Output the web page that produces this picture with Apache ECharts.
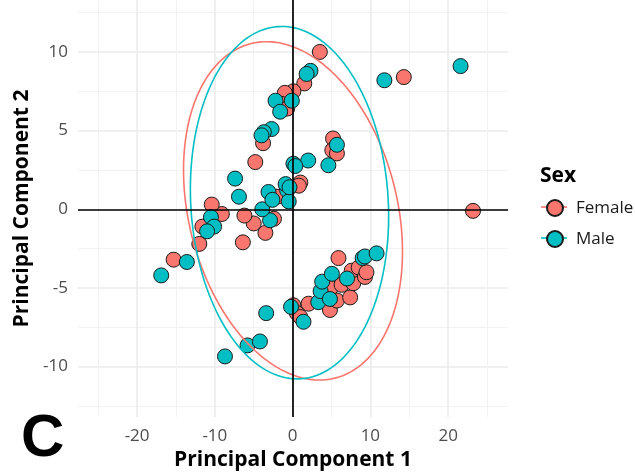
<!DOCTYPE html>
<html>
<head>
<meta charset="utf-8">
<title>PCA - Sex</title>
<script src="https://cdn.jsdelivr.net/npm/echarts@6.0.0/dist/echarts.min.js"></script>
<style>
  html, body { margin: 0; padding: 0; background: #fff; }
  #chart { width: 635px; height: 474px; }
</style>
</head>
<body>
<div id="chart"></div>
<script>
// tick positions
const xMajorTicks = [-20, -10, 0, 10, 20]
const xMinorTicks = [-25, -15, -5, 5, 15, 25]
const yMajorTicks = [-10, -5, 0, 5, 10]
const yMinorTicks = [-12.5, -7.5, -2.5, 2.5, 7.5, 12.5]

// PC1, PC2 per sample
const femalePoints = [
  [3.5, 10.0], [1.5, 8.0], [0.1, 7.5], [-1.0, 7.4], [-1.4, 6.7], [-0.7, 6.4],
  [-3.8, 4.2], [-4.8, 3.0], [5.2, 4.5], [5.1, 3.75], [5.7, 3.55], [14.3, 8.4],
  [23.2, -0.1], [1.0, 1.7], [0.8, 1.5], [-1.2, 0.9], [-2.0, 0.8], [-2.4, -0.6],
  [-3.5, -1.5], [-5.0, -0.9], [-6.2, -0.4], [-6.4, -2.1], [-9.1, -0.3], [-10.4, 0.3],
  [-11.6, -1.1], [-12.0, -2.2], [-15.3, -3.2],
  [0.1, -6.1], [0.55, -6.6], [1.0, -6.85], [2.05, -6.0], [4.8, -6.4], [4.9, -5.0],
  [5.7, -5.8], [5.9, -3.1], [6.3, -4.8], [7.4, -5.6], [7.8, -4.7], [7.6, -3.9],
  [8.5, -3.7], [9.3, -4.3], [9.5, -4.0]
]
const malePoints = [
  [2.3, 8.8], [1.8, 8.6], [-2.2, 6.9], [-0.1, 6.9], [-1.6, 6.2], [-2.7, 5.1],
  [-3.7, 4.9], [-4.0, 4.7], [5.7, 4.1], [4.6, 2.8], [2.0, 3.1], [0.1, 2.9],
  [0.35, 2.75], [11.8, 8.2], [21.6, 9.1], [-7.4, 1.95], [-6.9, 0.8], [-10.5, -0.5],
  [-10.1, -1.1], [-11.0, -1.4], [-13.6, -3.35], [-16.9, -4.2], [-2.9, -0.7], [-3.9, 0.0],
  [-3.1, 1.1], [-2.6, 0.6], [-0.7, 1.2], [-0.5, 0.5], [-0.9, 1.6], [-0.4, 1.4],
  [-3.4, -6.6], [-5.8, -8.65], [-4.2, -8.4], [-8.7, -9.35], [-0.2, -6.2], [1.4, -7.15],
  [3.3, -5.9], [3.6, -5.2], [3.8, -4.6], [5.05, -4.1], [4.8, -5.7], [7.0, -4.4],
  [9.0, -3.1], [9.3, -3.0], [10.8, -2.8]
]

// 95% ellipses: centre x, centre y, sd x, sd y, covariance (scaled)
const femaleEllipse = [0.05, -0.1, 14.08, 10.75, -36.5]
const maleEllipse = [-0.4, 0.42, 12.75, 11.2, -11]

const FEMALE = '#F8766D'
const MALE = '#00BFC4'
const FONT = '"Open Sans", Lato, sans-serif'

const ellipsePath = (p) => {
  const [cx, cy, sx, sy, sxy] = p
  const l21 = sxy / sx
  const l22 = Math.sqrt(sy * sy - l21 * l21)
  const pts = []
  for (let i = 0; i <= 160; i++) {
    const t = (Math.PI * 2 * i) / 160
    pts.push([cx + sx * Math.cos(t), cy + l21 * Math.cos(t) + l22 * Math.sin(t)])
  }
  return pts
}

const chart = echarts.init(document.getElementById('chart'))

const axisCommon = {
  type: 'value',
  axisLine: { show: false },
  axisTick: { show: false },
  minorTick: { show: false }
}

const option = {
  animation: false,
  title: [
    {
      text: 'Sex',
      left: 540,
      top: 166,
      padding: 0,
      textStyle: { fontFamily: FONT, fontSize: 21, fontWeight: 'bold', color: '#000' }
    },
    {
      text: 'C',
      left: 16,
      top: 404,
      textStyle: { fontFamily: '"Liberation Sans", Arial, sans-serif', fontSize: 60, fontWeight: 'bold', color: '#000' }
    }
  ],
  legend: {
    orient: 'vertical',
    left: 546,
    top: 199,
    padding: 0,
    itemWidth: 16,
    itemHeight: 16,
    itemGap: 13,
    z: 5,
    data: ['Female', 'Male'],
    textStyle: { fontFamily: FONT, fontSize: 17, color: '#1a1a1a', padding: [0, 0, 0, 8] }
  },
  // line part of the legend keys (ellipse path)
  graphic: [
    { type: 'line', z: 1, shape: { x1: 541, y1: 207, x2: 567, y2: 207 }, style: { stroke: FEMALE, lineWidth: 1.6 } },
    { type: 'line', z: 1, shape: { x1: 541, y1: 238, x2: 567, y2: 238 }, style: { stroke: MALE, lineWidth: 1.6 } }
  ],
  grid: { left: 78, right: 127, top: 0, bottom: 57, outerBoundsMode: 'none' },
  xAxis: [
    {
      ...axisCommon,
      min: -27.6,
      max: 27.7,
      name: 'Principal Component 1',
      nameLocation: 'middle',
      nameGap: 32,
      nameTextStyle: { fontFamily: FONT, fontSize: 21, fontWeight: 'bold', color: '#000' },
      axisTick: { show: false, customValues: xMajorTicks },
      axisLabel: { customValues: xMajorTicks, margin: 11, fontFamily: FONT, fontSize: 17, color: '#4D4D4D' },
      splitLine: { show: true, lineStyle: { color: '#EBEBEB', width: 1.6 } }
    },
    {
      ...axisCommon,
      min: -27.6,
      max: 27.7,
      axisTick: { show: false, customValues: xMinorTicks },
      axisLabel: { show: false },
      splitLine: { show: true, lineStyle: { color: '#F2F2F2', width: 1 } }
    }
  ],
  yAxis: [
    {
      ...axisCommon,
      min: -13.2,
      max: 13.3,
      name: 'Principal Component 2',
      nameLocation: 'middle',
      nameGap: 40,
      nameTextStyle: { fontFamily: FONT, fontSize: 21, fontWeight: 'bold', color: '#000' },
      axisTick: { show: false, customValues: yMajorTicks },
      axisLabel: { customValues: yMajorTicks, margin: 10, fontFamily: FONT, fontSize: 17, color: '#4D4D4D' },
      splitLine: { show: true, lineStyle: { color: '#EBEBEB', width: 1.6 } }
    },
    {
      ...axisCommon,
      min: -13.2,
      max: 13.3,
      axisTick: { show: false, customValues: yMinorTicks },
      axisLabel: { show: false },
      splitLine: { show: true, lineStyle: { color: '#F2F2F2', width: 1 } }
    }
  ],
  series: [
    {
      // zero reference lines
      name: 'zero',
      type: 'line',
      data: [],
      z: 1,
      silent: true,
      markLine: {
        symbol: 'none',
        silent: true,
        label: { show: false },
        lineStyle: { color: '#000', width: 1.7, type: 'solid' },
        data: [{ xAxis: 0 }, { yAxis: 0 }]
      }
    },
    {
      name: 'Female',
      type: 'scatter',
      z: 2,
      symbolSize: 15,
      itemStyle: { color: FEMALE, borderColor: '#1a1a1a', borderWidth: 1, opacity: 1 },
      data: femalePoints
    },
    {
      name: 'Male',
      type: 'scatter',
      z: 2,
      symbolSize: 15,
      itemStyle: { color: MALE, borderColor: '#1a1a1a', borderWidth: 1, opacity: 1 },
      data: malePoints
    },
    {
      name: 'Female ellipse',
      type: 'line',
      z: 3,
      showSymbol: false,
      silent: true,
      lineStyle: { color: FEMALE, width: 1.6 },
      data: ellipsePath(femaleEllipse)
    },
    {
      name: 'Male ellipse',
      type: 'line',
      z: 3,
      showSymbol: false,
      silent: true,
      lineStyle: { color: MALE, width: 1.6 },
      data: ellipsePath(maleEllipse)
    }
  ]
}

chart.setOption(option)
</script>
</body>
</html>
